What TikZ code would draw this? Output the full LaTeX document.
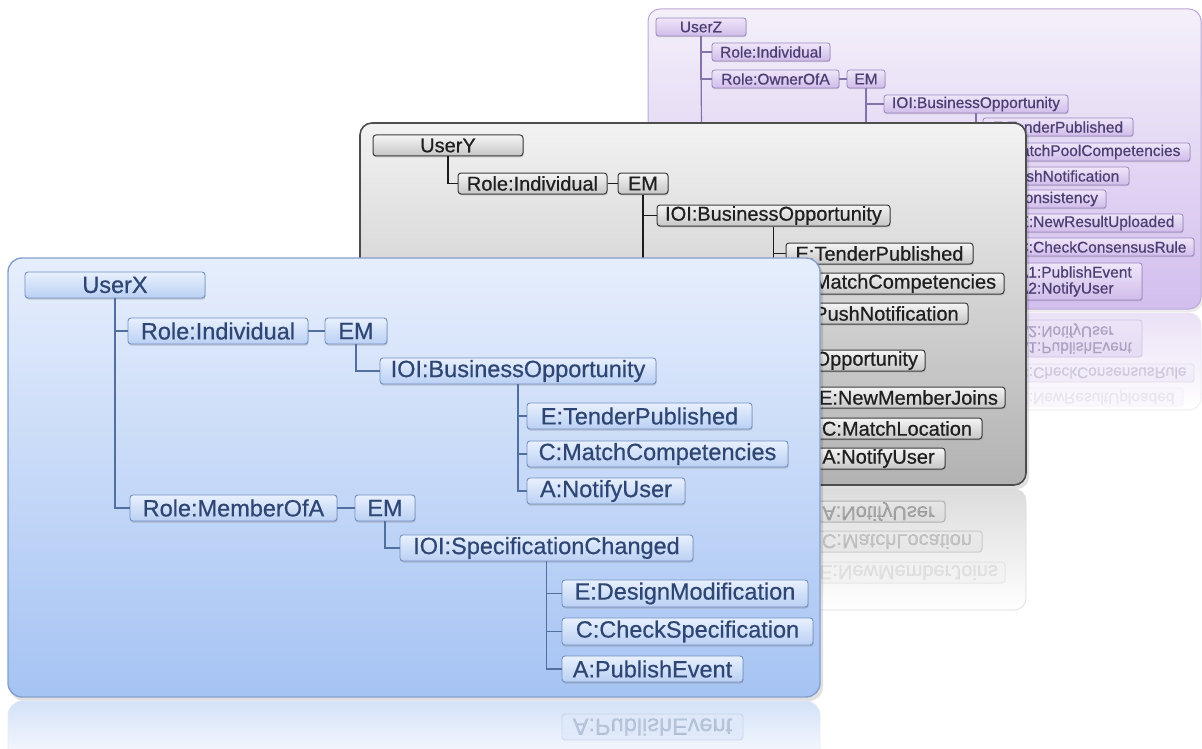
\documentclass[tikz,border=0pt]{standalone}
\usepackage{fontspec}
\newfontfamily\hv[FakeBold=0.6]{Liberation Sans}
\usetikzlibrary{shadows}
% blue
\definecolor{bxtop}{HTML}{E8F0FD}
\definecolor{bxbot}{HTML}{BAD0F4}
\definecolor{bxline}{HTML}{7391C2}
\definecolor{bxtext}{HTML}{2E4673}
\definecolor{bxlink}{HTML}{52709F}
\definecolor{bptop}{HTML}{E6EEFC}
\definecolor{bpbot}{HTML}{A5C3F3}
\definecolor{bpline}{HTML}{869FCB}
\definecolor{bref}{HTML}{D3E1F8}
% gray
\definecolor{gytop}{HTML}{F5F5F5}
\definecolor{gybot}{HTML}{C6C6C6}
\definecolor{gyline}{HTML}{3C3C3C}
\definecolor{gytext}{HTML}{1F1F1F}
\definecolor{gylink}{HTML}{1C1C1C}
\definecolor{gptop}{HTML}{F2F2F2}
\definecolor{gpbot}{HTML}{B2B2B2}
\definecolor{gpline}{HTML}{4D4D4D}
\definecolor{gref}{HTML}{DCDCDC}
% purple
\definecolor{putop}{HTML}{EFE6F9}
\definecolor{pubot}{HTML}{D0BCEA}
\definecolor{puline}{HTML}{9A86BE}
\definecolor{putext}{HTML}{4B3E72}
\definecolor{pulink}{HTML}{8572AB}
\definecolor{pptop}{HTML}{F4F0FA}
\definecolor{ppbot}{HTML}{D2BEEE}
\definecolor{ppline}{HTML}{BBA9D9}
\definecolor{pref}{HTML}{EAE1F6}
\newcommand{\tbox}[7]{\node[#1, minimum width={#5pt-#3pt}, minimum height={#6pt-#4pt}] (#2) at ({(#3+#5)/2},{(#4+#6)/2}) {#7};}
\tikzset{
 bbase/.style={draw=bxline, line width=0.9pt, rounded corners=3pt, top color=bxtop, bottom color=bxbot, text=bxtext, inner sep=0pt, font=\hv\fontsize{23.5}{26}\selectfont},
 bbox/.style={bbase, drop shadow={shadow xshift=0.6pt, shadow yshift=-1.6pt, opacity=0.35}},
 gbase/.style={draw=gyline, line width=1pt, rounded corners=3pt, top color=gytop, bottom color=gybot, text=gytext, inner sep=0pt, font=\hv\fontsize{20}{22}\selectfont},
 gbox/.style={gbase, drop shadow={shadow xshift=0.6pt, shadow yshift=-1.4pt, opacity=0.35}},
 pbase/.style={draw=puline, line width=0.8pt, rounded corners=2.5pt, top color=putop, bottom color=pubot, text=putext, inner sep=0pt, font=\hv\fontsize{15.5}{16}\selectfont},
 pbox/.style={pbase, drop shadow={shadow xshift=0.5pt, shadow yshift=-1.2pt, opacity=0.3}},
 ralign/.style={align=right, text width=#1},
 lalign/.style={align=left, text width=#1},
 refl/.style={opacity=#1},
 bline/.style={draw=bxlink, line width=1.6pt},
 gline/.style={draw=gylink, line width=1.6pt},
 pline/.style={draw=pulink, line width=1.2pt},
}
\begin{document}
\begin{tikzpicture}[x=1pt,y=-1pt]
\fill[white] (0,0) rectangle (1202,749);
\useasboundingbox (0,0) rectangle (1202,749);

% ================= UserZ panel (purple) =================
\fill[black, opacity=0.08, rounded corners=12pt] (650,12) rectangle (1203,312);
\path[top color=pptop, bottom color=ppbot, draw=ppline, line width=1pt, rounded corners=12pt] (648,9) rectangle (1201,309);
\path[top color=pref, bottom color=white, draw=ppline!30, line width=0.6pt, rounded corners=12pt] (648,313) rectangle (1201,410);
\begin{scope}[yshift=-620pt, yscale=-1, transform shape]
 \tbox{pbase, refl=0.35, lalign=116pt}{rza2}{1010}{263}{1142}{300}{A1:PublishEvent\\A2:NotifyUser}
 \tbox{pbase, refl=0.18}{rzc2}{1010}{238}{1194}{256}{C:CheckConsensusRule}
 \tbox{pbase, refl=0.08}{rze2}{1010}{214}{1183}{232}{E:NewResultUploaded}
\end{scope}
\tbox{pbox}{uz}{656}{18}{746}{36}{UserZ}
\tbox{pbox}{uzri}{712}{43}{830}{61}{Role:Individual}
\tbox{pbox}{uzro}{712}{70}{839}{88}{Role:OwnerOfA}
\tbox{pbox}{uzem}{847}{70}{885}{88}{EM}
\tbox{pbox}{uzioi}{884}{95}{1068}{113}{IOI:BusinessOpportunity}
\tbox{pbox}{uze}{983}{118}{1133}{136}{E:TenderPublished}
\tbox{pbox}{uzc}{983}{143}{1190}{161}{C:MatchPoolCompetencies}
\tbox{pbox}{uza}{983}{167}{1129}{185}{A:PushNotification}
\tbox{pbox, ralign=206pt}{uzioi2}{884}{190}{1106}{208}{Consistency}
\tbox{pbox}{uze2}{1010}{214}{1183}{232}{E:NewResultUploaded}
\tbox{pbox}{uzc2}{1010}{238}{1194}{256}{C:CheckConsensusRule}
\tbox{pbox, lalign=116pt}{uza2}{1010}{263}{1142}{300}{A1:PublishEvent\\A2:NotifyUser}
\coordinate (uzend) at (702,240);
\draw[pline] (uz.south) -- (uzend);
\draw[pline] (uz.south) |- (uzri.west);
\draw[pline] (uz.south) |- (uzro.west);
\draw[pline] (uzro.east) -- (uzem.west);
\draw[pline] (uzem.south) |- (uzioi.west);
\draw[pline] (uzem.south) |- (uzioi2.west);
\draw[pline] (uzioi.south) |- (uze.west);
\draw[pline] (uzioi.south) |- (uzc.west);
\draw[pline] (uzioi.south) |- (uza.west);
\draw[pline] (uzioi2.south) |- (uze2.west);
\draw[pline] (uzioi2.south) |- (uzc2.west);
\draw[pline] (uzioi2.south) |- (uza2.west);

% ================= UserY panel (gray) =================
\fill[black, opacity=0.12, rounded corners=12pt] (362,126) rectangle (1029,489);
\path[top color=gptop, bottom color=gpbot, draw=gpline, line width=1.6pt, rounded corners=12pt] (360,123) rectangle (1026,485);
\path[top color=gref, bottom color=white, draw=gpline!20, line width=0.6pt, rounded corners=12pt] (360,489) rectangle (1026,610);
\begin{scope}[yshift=-970pt, yscale=-1, transform shape]
 \tbox{gbase, refl=0.3}{rya2}{812}{448}{945}{469}{A:NotifyUser}
 \tbox{gbase, refl=0.18}{ryc2}{812}{418}{982}{439}{C:MatchLocation}
 \tbox{gbase, refl=0.08}{rye2}{812}{387}{1005}{408}{E:NewMemberJoins}
\end{scope}
\tbox{gbox}{uy}{373}{135}{523}{156}{UserY}
\tbox{gbox}{uyri}{458}{173}{607}{194}{Role:Individual}
\tbox{gbox}{uyem}{618}{173}{668}{194}{EM}
\tbox{gbox}{uyioi}{657}{205}{890}{226}{IOI:BusinessOpportunity}
\tbox{gbox}{uye}{786}{243}{973}{264}{E:TenderPublished}
\tbox{gbox}{uyc}{786}{273}{1004}{294}{C:MatchCompetencies}
\tbox{gbox}{uya}{786}{303}{968}{324}{A:PushNotification}
\tbox{gbox, ralign=254pt}{uyioi2}{657}{350}{925}{371}{Opportunity}
\tbox{gbox}{uye2}{812}{387}{1005}{408}{E:NewMemberJoins}
\tbox{gbox}{uyc2}{812}{418}{982}{439}{C:MatchLocation}
\tbox{gbox}{uya2}{812}{448}{945}{469}{A:NotifyUser}
\draw[gline] (uy.south) |- (uyri.west);
\draw[gline] (uyri.east) -- (uyem.west);
\draw[gline] (uyem.south) |- (uyioi.west);
\draw[gline] (uyem.south) |- (uyioi2.west);
\draw[gline] (uyioi.south) |- (uye.west);
\draw[gline] (uyioi.south) |- (uyc.west);
\draw[gline] (uyioi.south) |- (uya.west);
\draw[gline] (uyioi2.south) |- (uye2.west);
\draw[gline] (uyioi2.south) |- (uyc2.west);
\draw[gline] (uyioi2.south) |- (uya2.west);

% ================= UserX panel (blue) =================
\fill[black, opacity=0.12, rounded corners=14pt] (10,261) rectangle (823,701);
\path[top color=bptop, bottom color=bpbot, draw=bpline, line width=1.4pt, rounded corners=14pt] (8,258) rectangle (820,697);
\path[top color=bref, bottom color=white, draw=bpline!20, line width=0.6pt, rounded corners=14pt] (8,701) rectangle (820,770);
\begin{scope}[yshift=-1396pt, yscale=-1, transform shape]
 \tbox{bbase, refl=0.22}{rxa2}{562}{656}{743}{682}{A:PublishEvent}
\end{scope}
\tbox{bbox}{ux}{25}{272}{205}{298}{UserX}
\tbox{bbox}{uxri}{128}{318}{308}{344}{Role:Individual}
\tbox{bbox}{uxem}{325}{318}{387}{344}{EM}
\tbox{bbox}{uxioi}{380}{358}{656}{384}{IOI:BusinessOpportunity}
\tbox{bbox}{uxe}{527}{403}{752}{429}{E:TenderPublished}
\tbox{bbox}{uxc}{527}{441}{788}{467}{C:MatchCompetencies}
\tbox{bbox}{uxa}{527}{478}{685}{504}{A:NotifyUser}
\tbox{bbox}{uxrm}{130}{495}{337}{521}{Role:MemberOfA}
\tbox{bbox}{uxem2}{355}{495}{415}{521}{EM}
\tbox{bbox}{uxioi2}{400}{535}{693}{561}{IOI:SpecificationChanged}
\tbox{bbox}{uxe2}{562}{580}{808}{607}{E:DesignModification}
\tbox{bbox}{uxc2}{562}{618}{813}{645}{C:CheckSpecification}
\tbox{bbox}{uxa2}{562}{656}{743}{682}{A:PublishEvent}
\draw[bline] (ux.south) |- (uxri.west);
\draw[bline] (ux.south) |- (uxrm.west);
\draw[bline] (uxri.east) -- (uxem.west);
\draw[bline] (uxem.south) |- (uxioi.west);
\draw[bline] (uxioi.south) |- (uxe.west);
\draw[bline] (uxioi.south) |- (uxc.west);
\draw[bline] (uxioi.south) |- (uxa.west);
\draw[bline] (uxrm.east) -- (uxem2.west);
\draw[bline] (uxem2.south) |- (uxioi2.west);
\draw[bline] (uxioi2.south) |- (uxe2.west);
\draw[bline] (uxioi2.south) |- (uxc2.west);
\draw[bline] (uxioi2.south) |- (uxa2.west);
\end{tikzpicture}
\end{document}
